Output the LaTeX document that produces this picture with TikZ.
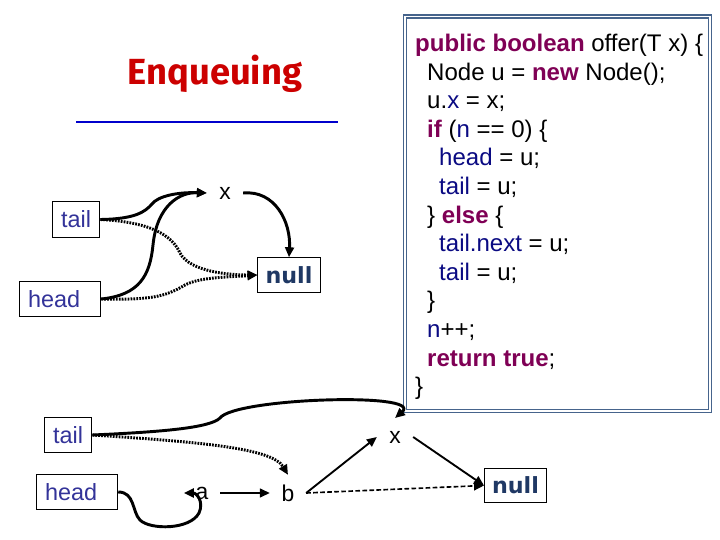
\documentclass[tikz,border=0pt]{standalone}
\usepackage{fontspec}
\setmainfont{Liberation Sans}
\newfontfamily\titlefont{Fira Sans}
\newfontfamily\nilfont{DejaVu Sans}
\usetikzlibrary{arrows.meta,calc,positioning}

\definecolor{kwpurple}{RGB}{127,0,85}
\definecolor{varnavy}{RGB}{10,10,130}
\definecolor{boxblue}{RGB}{51,51,153}
\definecolor{nullblue}{RGB}{31,56,100}
\definecolor{frameblue}{RGB}{70,100,140}
\definecolor{titlered}{RGB}{204,0,0}
\definecolor{ruleblue}{RGB}{0,0,204}

\newcommand{\kw}[1]{\textbf{\color{kwpurple}#1}}
\newcommand{\vr}[1]{{\color{varnavy}#1}}

\tikzset{
  qbox/.style={draw, line width=0.8pt, minimum height=30pt, inner xsep=7.6pt,
    font=\fontsize{20}{22}\selectfont, text=boxblue},
  widebox/.style={qbox, text width=54.4pt, align=left},
  nullbox/.style={draw, line width=0.8pt, minimum height=29.5pt, minimum width=53pt,
    font=\nilfont\bfseries\fontsize{19}{20}\selectfont, text=nullblue},
  lbl/.style={minimum size=30.6pt, inner sep=0pt, font=\fontsize{19.5}{22}\selectfont},
  codeline/.style={anchor=base west, inner sep=0pt, font=\fontsize{20.5}{24}\selectfont},
  tip/.style={-{Triangle[length=8.5pt,width=7.5pt]}},
  bigptr/.style={tip, line width=2.5pt},
  dotptr/.style={tip, line width=2.5pt, dash pattern=on 1.5pt off 1pt},
  thinptr/.style={tip, line width=1.6pt}
}

\begin{document}
\begin{tikzpicture}[x=0.03cm,y=-0.03cm]
  \useasboundingbox (0,0) rectangle (720,540);

  % title
  \node[anchor=base, inner sep=0pt, text=titlered,
    font=\titlefont\bfseries\fontsize{31}{32}\selectfont] (title) at (215,85) {Enqueuing};
  \draw[ruleblue, line width=2.5pt] (76,122) -- (338,122);

  % code of offer()
  \draw[frameblue, line width=1.4pt, double=white, double distance=1.2pt] (405,16.5) rectangle (710,411);
  \node[codeline] (c1) at (415,51.5) {\kw{public boolean} offer(T x) \{};
  \node[codeline] (c2) at (427,80.1) {Node u = \kw{new} Node();};
  \node[codeline] (c3) at (427,108.7) {u.\vr{x} = x;};
  \node[codeline] (c4) at (427,137.3) {\kw{if} (\vr{n} == 0) \{};
  \node[codeline] (c5) at (439,165.9) {\vr{head} = u;};
  \node[codeline] (c6) at (439,194.5) {\vr{tail} = u;};
  \node[codeline] (c7) at (427,223.1) {\} \kw{else} \{};
  \node[codeline] (c8) at (439,251.7) {\vr{tail.next} = u;};
  \node[codeline] (c9) at (439,280.3) {\vr{tail} = u;};
  \node[codeline] (c10) at (427,308.9) {\}};
  \node[codeline] (c11) at (427,337.5) {\vr{n}++;};
  \node[codeline] (c12) at (427,366.1) {\kw{return true};};
  \node[codeline] (c13) at (415,394.7) {\}};

  % empty queue
  \node[qbox, minimum width=39pt] (tailT) at (76,219.5) {tail};
  \node[widebox] (headT) at (60,299) {head};
  \node[lbl] (xT) at (225,193) {x};
  \node[nullbox] (nullT) at (289,275) {null};

  \draw[bigptr] (tailT.east) .. controls (135,219) and (145,212) .. (152,204)
    .. controls (158,196) and (178,192) .. (xT.west);
  \draw[bigptr] (headT.east) .. controls (140,295) and (150,275) .. (153,245)
    .. controls (157,205) and (180,192) .. (xT.west);
  \draw[bigptr] (xT.east) .. controls (275,190) and (291,222) .. (nullT.north);
  \draw[dotptr] (tailT.east) .. controls (150,222) and (172,235) .. (180,253)
    .. controls (190,272) and (230,275) .. (nullT.west);
  \draw[dotptr] (headT.east) .. controls (150,300) and (165,297) .. (185,285)
    .. controls (200,277) and (230,277) .. (nullT.west);

  % non-empty queue
  \node[qbox, minimum width=39pt] (tailL) at (68,435) {tail};
  \node[widebox] (headL) at (77,492) {head};
  \node[lbl] (aL) at (202,493) {a};
  \node[lbl] (bL) at (288,493) {b};
  \node[lbl, minimum height=32pt] (xL) at (395,437) {x};
  \node[nullbox] (nullL) at (515.5,485.5) {null};

  \draw[bigptr] (tailL.east) .. controls (160,432) and (210,428) .. (220,418)
    .. controls (235,398) and (425,392) .. (xL.north);
  \draw[dotptr] (tailL.east) .. controls (200,442) and (272,448) .. (bL.north);
  \draw[bigptr] (headL.east) .. controls (135,492) and (132,512) .. (140,520)
    .. controls (150,530) and (190,530) .. (199,513)
    .. controls (204,502) and (197,493) .. (aL.west);
  \draw[thinptr] (aL) -- (bL);
  \draw[thinptr] (bL.east) -- (xL.west);
  \draw[thinptr] (xL.east) -- (nullL.west);
  \draw[tip, line width=1.4pt, dash pattern=on 4pt off 2pt] (bL.east) -- (nullL.west);
\end{tikzpicture}
\end{document}
